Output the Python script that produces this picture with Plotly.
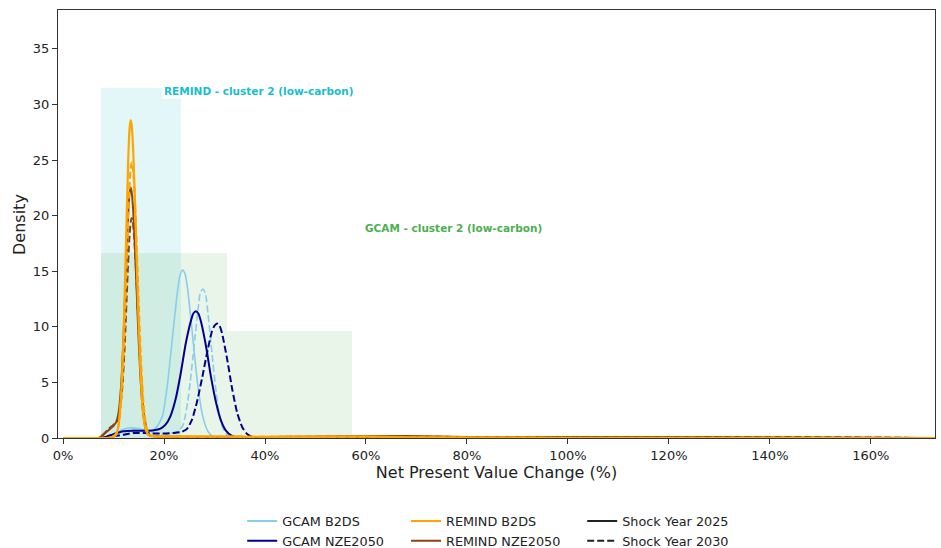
import plotly.graph_objects as go

# ---------------- data ----------------
# shaded cluster regions: bin edges (fraction) and heights (density)
remind_edges = [0.075, 0.234]
remind_heights = [31.5]
gcam_edges = [0.075, 0.325, 0.572]
gcam_heights = [16.65, 9.6]

# KDE curves (x as fraction of NPV change, y density)
gcam_b2ds_2025_x = [0.0, 0.075, 0.09, 0.11, 0.13, 0.15, 0.165, 0.177, 0.187, 0.197, 0.207, 0.217, 0.227,
                    0.232, 0.237, 0.242, 0.247, 0.257, 0.267, 0.277, 0.287, 0.297, 0.31, 0.5, 0.8, 1.0,
                    1.3, 1.727]
gcam_b2ds_2025_y = [0, 0, 0.15, 0.6, 0.9, 0.85, 0.7, 0.65, 1.1, 2.0, 4.9, 9.2, 13.3,
                    14.7, 15.1, 14.7, 13.3, 9.0, 4.7, 1.9, 0.6, 0.15, 0.03, 0.02, 0.03, 0.08,
                    0.02, 0]

gcam_b2ds_2030_x = [0.0, 0.075, 0.09, 0.11, 0.13, 0.15, 0.17, 0.19, 0.21, 0.227, 0.237, 0.242, 0.247,
                    0.252, 0.257, 0.262, 0.267, 0.272, 0.277, 0.282, 0.287, 0.292, 0.297, 0.302, 0.307,
                    0.312, 0.317, 0.327, 0.34, 0.5, 0.8, 1.0, 1.3, 1.727]
gcam_b2ds_2030_y = [0, 0, 0.1, 0.5, 0.7, 0.7, 0.5, 0.4, 0.4, 0.6, 1.1, 2.0, 3.3,
                    5.1, 7.2, 9.3, 11.4, 13.1, 13.4, 13.0, 11.2, 9.0, 6.7, 4.6, 2.8,
                    1.6, 0.84, 0.18, 0.05, 0.02, 0.03, 0.06, 0.03, 0]

gcam_nze_2025_x = [0.0, 0.07, 0.085, 0.1, 0.12, 0.14, 0.16, 0.18, 0.193, 0.203, 0.213, 0.223, 0.233,
                   0.243, 0.253, 0.258, 0.263, 0.268, 0.273, 0.283, 0.293, 0.303, 0.313, 0.323, 0.333,
                   0.343, 0.36, 0.5, 0.8, 1.0, 1.3, 1.727]
gcam_nze_2025_y = [0, 0, 0.1, 0.35, 0.6, 0.65, 0.65, 0.7, 0.85, 1.2, 2.0, 3.5, 5.8,
                   8.5, 10.5, 11.2, 11.4, 11.2, 10.5, 8.3, 5.5, 3.2, 1.55, 0.64, 0.23,
                   0.06, 0.02, 0.02, 0.03, 0.08, 0.04, 0]

gcam_nze_2030_x = [0.0, 0.08, 0.1, 0.12, 0.14, 0.16, 0.18, 0.2, 0.22, 0.235, 0.245, 0.255, 0.265,
                   0.275, 0.285, 0.295, 0.3, 0.305, 0.31, 0.315, 0.325, 0.335, 0.345, 0.355, 0.365,
                   0.375, 0.39, 0.41, 0.5, 1.0, 1.32, 1.727]
gcam_nze_2030_y = [0, 0, 0.15, 0.3, 0.45, 0.45, 0.4, 0.4, 0.45, 0.55, 0.8, 1.6, 3.2,
                   5.3, 7.6, 9.6, 10.1, 10.3, 10.1, 9.4, 7.1, 4.4, 2.25, 0.97, 0.34,
                   0.1, 0.03, 0.01, 0.01, 0.05, 0.08, 0]

remind_b2ds_2025_x = [0.0, 0.08, 0.095, 0.105, 0.11, 0.115, 0.12, 0.125, 0.129, 0.132, 0.134, 0.136,
                      0.139, 0.143, 0.148, 0.153, 0.158, 0.164, 0.17, 0.18, 0.2, 0.3, 0.5, 0.6, 0.7,
                      1.0, 1.727]
remind_b2ds_2025_y = [0, 0, 0.05, 0.27, 1.2, 3.9, 9.6, 18.2, 24.9, 28.0, 28.6, 28.1,
                      25.8, 20.5, 12.7, 6.4, 2.5, 0.7, 0.25, 0.15, 0.13, 0.12, 0.1, 0.12, 0.06,
                      0.02, 0]

remind_b2ds_2030_x = [0.0, 0.085, 0.098, 0.107, 0.112, 0.117, 0.122, 0.127, 0.131, 0.134, 0.136, 0.138,
                      0.141, 0.145, 0.15, 0.155, 0.16, 0.166, 0.172, 0.185, 0.2, 0.3, 0.5, 0.7, 1.0,
                      1.727]
remind_b2ds_2030_y = [0, 0, 0.1, 0.55, 1.8, 4.8, 10.2, 17.3, 22.2, 24.3, 24.8, 24.4,
                      22.6, 18.2, 11.8, 6.3, 2.7, 0.8, 0.25, 0.15, 0.13, 0.12, 0.1, 0.06, 0.02,
                      0]

remind_nze_2025_x = [0.0, 0.07, 0.08, 0.09, 0.1, 0.105, 0.11, 0.115, 0.12, 0.125, 0.129, 0.132,
                     0.134, 0.136, 0.139, 0.143, 0.148, 0.153, 0.158, 0.164, 0.17, 0.18, 0.2, 0.4,
                     0.68, 0.8, 1.0, 1.3, 1.727]
remind_nze_2025_y = [0, 0, 0.3, 0.7, 1.1, 1.4, 2.3, 4.7, 9.3, 15.6, 20.1, 22.1,
                     22.5, 22.1, 20.4, 16.5, 10.7, 5.7, 2.5, 0.8, 0.25, 0.15, 0.12, 0.1,
                     0.18, 0.08, 0.05, 0.05, 0]

remind_nze_2030_x = [0.0, 0.072, 0.08, 0.09, 0.1, 0.107, 0.112, 0.117, 0.122, 0.127, 0.131, 0.134,
                     0.136, 0.138, 0.141, 0.145, 0.15, 0.155, 0.16, 0.166, 0.172, 0.185, 0.2, 0.4,
                     0.7, 0.9, 1.2, 1.4, 1.727]
remind_nze_2030_y = [0, 0, 0.35, 0.8, 1.2, 1.5, 2.4, 4.3, 8.2, 13.7, 17.7, 19.4,
                     19.8, 19.5, 18.0, 14.6, 9.4, 5.0, 2.2, 0.7, 0.2, 0.14, 0.12, 0.1,
                     0.12, 0.06, 0.06, 0.04, 0]

x_ticks = [0, 0.2, 0.4, 0.6, 0.8, 1.0, 1.2, 1.4, 1.6]
y_ticks = [0, 5, 10, 15, 20, 25, 30, 35]

# ---------------- styles ----------------
C_GB = "#87CEEB"   # GCAM B2DS
C_GN = "#00008B"   # GCAM NZE2050
C_RB = "#FFA500"   # REMIND B2DS
C_RN = "#8B4513"   # REMIND NZE2050
DASH = "7px,3px"
FONT = "DejaVu Sans"

fig = go.Figure()

# shaded cluster regions (bars)
def add_bins(edges, heights, color):
    centers = [(edges[i] + edges[i + 1]) / 2 for i in range(len(heights))]
    widths = [edges[i + 1] - edges[i] for i in range(len(heights))]
    fig.add_trace(go.Bar(x=centers, y=heights, width=widths, marker=dict(color=color, line=dict(width=0)),
                         showlegend=False, hoverinfo="skip"))

add_bins(remind_edges, remind_heights, "rgba(23,190,207,0.12)")
add_bins(gcam_edges, gcam_heights, "rgba(44,160,44,0.10)")

def curve(x, y, color, dash, width):
    fig.add_trace(go.Scatter(x=x, y=y, mode="lines",
                             line=dict(color=color, width=width, dash=dash, shape="spline", smoothing=0.6),
                             showlegend=False, hoverinfo="skip"))

curve(gcam_b2ds_2025_x, gcam_b2ds_2025_y, C_GB, "solid", 1.6)
curve(gcam_b2ds_2030_x, gcam_b2ds_2030_y, C_GB, DASH, 1.6)
curve(gcam_nze_2025_x, gcam_nze_2025_y, C_GN, "solid", 2)
curve(gcam_nze_2030_x, gcam_nze_2030_y, C_GN, DASH, 2)
curve(remind_nze_2025_x, remind_nze_2025_y, C_RN, "solid", 2)
curve(remind_nze_2030_x, remind_nze_2030_y, C_RN, DASH, 2)
curve(remind_b2ds_2025_x, remind_b2ds_2025_y, C_RB, "solid", 2.2)
curve(remind_b2ds_2030_x, remind_b2ds_2030_y, C_RB, DASH, 2.2)

# legend entries
def leg(name, color, dash, legend):
    fig.add_trace(go.Scatter(x=[None], y=[None], mode="lines", name=name,
                             line=dict(color=color, width=2, dash=dash), legend=legend))

leg("GCAM B2DS", C_GB, "solid", "legend")
leg("GCAM NZE2050", C_GN, "solid", "legend")
leg("REMIND B2DS", C_RB, "solid", "legend2")
leg("REMIND NZE2050", C_RN, "solid", "legend2")
leg("Shock Year 2025", "#222222", "solid", "legend3")
leg("Shock Year 2030", "#222222", DASH, "legend3")

legend_common = dict(orientation="v", yanchor="top", xanchor="left", yref="container", xref="container",
                     y=0.0763, font=dict(family=FONT, size=12.8, color="#222"), bgcolor="rgba(0,0,0,0)",
                     tracegroupgap=0, itemwidth=30)

axis_common = dict(showline=True, mirror=True, linecolor="#333333", linewidth=1.2,
                   ticks="outside", ticklen=5, tickcolor="#333333", showgrid=False, zeroline=False,
                   tickfont=dict(family=FONT, size=13, color="#222"))

fig.update_layout(
    width=941, height=548,
    margin=dict(l=58, r=6, t=10, b=110, autoexpand=False),
    paper_bgcolor="white", plot_bgcolor="white",
    barmode="overlay", bargap=0,
    font=dict(family=FONT, color="#222"),
    xaxis=dict(range=[-0.01, 1.727], tickvals=x_ticks, tickformat=".0%",
               title=dict(text="Net Present Value Change (%)", font=dict(family=FONT, size=16), standoff=3),
               **axis_common),
    yaxis=dict(range=[0, 38.5], tickvals=y_ticks, **axis_common),
    legend=dict(x=0.2574, **legend_common),
    legend2=dict(x=0.4315, **legend_common),
    legend3=dict(x=0.6187, **legend_common),
    annotations=[
        dict(x=-0.0445, y=0.5, xref="paper", yref="paper", xanchor="center", yanchor="middle",
             showarrow=False, text="Density", textangle=-90,
             font=dict(family=FONT, size=16, color="#222")),
        dict(x=0.195, y=31.2, xref="x", yref="y", xanchor="left", yanchor="middle", showarrow=False,
             text="<b>REMIND - cluster 2 (low-carbon)</b>", bgcolor="white",
             font=dict(family=FONT, size=10.5, color="#17becf")),
        dict(x=0.594, y=18.9, xref="x", yref="y", xanchor="left", yanchor="middle", showarrow=False,
             text="<b>GCAM - cluster 2 (low-carbon)</b>",
             font=dict(family=FONT, size=10.5, color="#4caf50")),
    ],
)

fig.write_html("out.html")
